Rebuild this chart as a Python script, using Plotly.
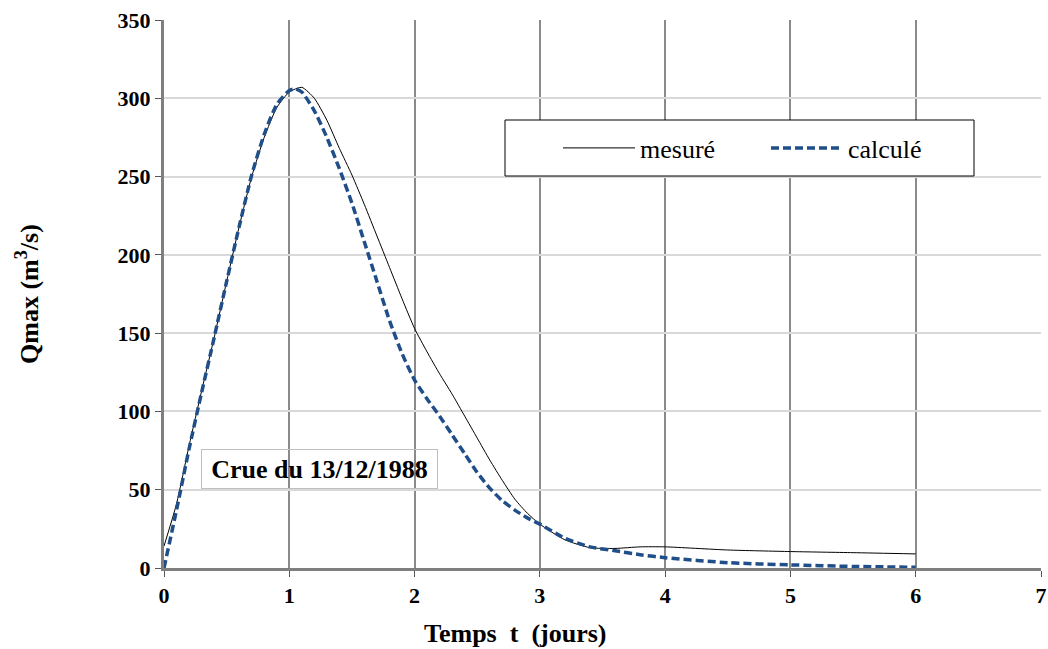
import plotly.graph_objects as go

t_mes = [0, 0.1, 0.2, 0.3, 0.4, 0.5, 0.6, 0.7, 0.8, 0.9, 1.0, 1.1, 1.2, 1.3, 1.4, 1.5, 1.6, 1.7, 1.8, 1.9,
         2.0, 2.1, 2.2, 2.3, 2.4, 2.5, 2.6, 2.7, 2.8, 2.9, 3.0, 3.2, 3.4, 3.6, 3.8, 4.0, 4.5, 5.0, 5.5, 6.0]
q_mes = [14, 41, 78, 113, 147, 183, 218, 250, 275, 294, 304, 307, 300, 286, 268, 251, 232, 212, 192, 172,
         153, 138, 124, 111, 97, 83, 69, 56, 44, 35, 28, 18, 13, 12.5, 13.5, 13.5, 11.5, 10.5, 9.8, 9]

t_cal = [0, 0.1, 0.2, 0.3, 0.4, 0.5, 0.6, 0.7, 0.8, 0.9, 1.0, 1.05, 1.1, 1.2, 1.3, 1.4, 1.5, 1.6, 1.7, 1.8, 1.9,
         2.0, 2.1, 2.2, 2.3, 2.4, 2.5, 2.6, 2.7, 2.8, 2.9, 3.0, 3.2, 3.4, 3.6, 3.8, 4.0, 4.5, 5.0, 5.5, 6.0]
q_cal = [0, 37, 76, 112, 147, 183, 218, 251, 277, 296, 305, 306, 304, 292, 275, 255, 233, 208, 183, 158, 137,
         120, 108, 97, 85, 73, 61, 51, 43, 37, 32, 28, 19, 13.5, 11, 8.5, 6.6, 3.4, 2, 1, 0.5]

x_ticks = [0, 1, 2, 3, 4, 5, 6, 7]
y_ticks = [0, 50, 100, 150, 200, 250, 300, 350]

serif = "'Liberation Serif', 'Times New Roman', Times, serif"

L, R, T, B = 164, 1041, 20, 568
PW, PH = R - L, B - T


def px_x(p):
    return (p - L) / PW


def px_y(p):
    return (B - p) / PH


fig = go.Figure()
fig.add_trace(go.Scatter(x=t_mes, y=q_mes, mode="lines", name="mesuré",
                         line=dict(color="black", width=1, shape="spline", smoothing=0.6)))
fig.add_trace(go.Scatter(x=t_cal, y=q_cal, mode="lines", name="calculé",
                         line=dict(color="#1F4E89", width=3.5, dash="8px,4px", shape="spline", smoothing=0.6)))

fig.update_layout(
    width=1048, height=649,
    margin=dict(l=L, r=1048 - R, t=T, b=649 - B, autoexpand=False),
    plot_bgcolor="white", paper_bgcolor="white",
    font=dict(family=serif, color="black"),
    showlegend=True,
    legend=dict(orientation="h", x=px_x(558), y=px_y(148), xanchor="left", yanchor="middle",
                bgcolor="rgba(0,0,0,0)", borderwidth=0,
                font=dict(family=serif, size=26, color="black"),
                entrywidth=121, entrywidthmode="pixels", itemwidth=72),
    shapes=[dict(type="rect", xref="paper", yref="paper", x0=px_x(505), x1=px_x(974), y0=px_y(176), y1=px_y(120),
                 fillcolor="white", line=dict(color="black", width=1), layer="above")],
    xaxis=dict(range=[0, 7], tickvals=x_ticks, ticktext=[str(v) for v in x_ticks], automargin=False,
               showgrid=True, gridcolor="#8a8a8a", gridwidth=2,
               showline=True, linecolor="#7f7f7f", linewidth=3,
               ticks="outside", ticklen=6, tickcolor="#555555", tickwidth=1,
               tickfont=dict(family=serif, size=22, color="black", weight="bold"),
               zeroline=False),
    yaxis=dict(range=[0, 350], tickvals=y_ticks, ticktext=[str(v) for v in y_ticks], automargin=False,
               showgrid=True, gridcolor="#d9d9d9", gridwidth=2,
               showline=True, linecolor="#7f7f7f", linewidth=3,
               ticks="outside", ticklen=6, tickcolor="#555555", tickwidth=1,
               tickfont=dict(family=serif, size=22, color="black", weight="bold"),
               zeroline=False),
    annotations=[
        dict(text="<b>Crue du 13/12/1988</b>", x=1.241, y=63.2, xref="x", yref="y", showarrow=False,
             font=dict(family=serif, size=26, color="black"), bordercolor="#bfbfbf", borderwidth=1,
             width=227, height=30, borderpad=4, bgcolor="rgba(0,0,0,0)"),
        dict(text="<b>Temps&nbsp;&nbsp;t&nbsp;&nbsp;(jours)</b>", x=px_x(515), y=px_y(633), xref="paper", yref="paper",
             showarrow=False, font=dict(family=serif, size=26, color="black"), yanchor="middle"),
        dict(text="<b>Qmax (m<sup>3</sup>/s)</b>", x=px_x(27), y=px_y(294), xref="paper", yref="paper",
             showarrow=False, textangle=-90, font=dict(family=serif, size=26, color="black"),
             xanchor="center", yanchor="middle"),
    ],
)

fig.write_html("out.html")
